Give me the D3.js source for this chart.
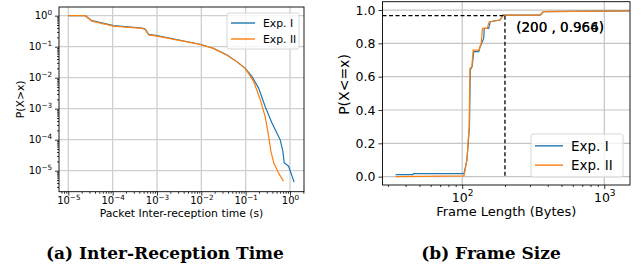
<!DOCTYPE html>
<html>
<head>
<meta charset="utf-8">
<script src="https://cdn.jsdelivr.net/npm/d3@7"></script>
<style>
  body { margin: 0; background: #fff; }
  svg { display: block; }
  text { font-family: "DejaVu Sans", sans-serif; fill: #000; }
  .cap { font-family: "DejaVu Serif", serif; font-weight: bold; }
</style>
</head>
<body>
<div id="chart"></div>
<script>
// (a) inter-reception time CCDF
const timeI = [1.0e-5, 2.4e-5, 3.4e-5, 1.05e-4, 4.6e-4, 5.4e-4, 6.5e-4, 1.0e-3, 9.3e-3, 1.86e-2, 3.8e-2, 6.3e-2, 9.8e-2, 0.138, 0.195, 0.275, 0.39, 0.60, 0.69, 0.74, 0.93, 1.24];
const ccdfI = [1.0, 1.0, 0.69, 0.48, 0.40, 0.37, 0.25, 0.23, 0.12, 0.089, 0.054, 0.033, 0.020, 0.011, 0.0047, 0.00118, 3.5e-4, 1.0e-4, 4.3e-5, 1.8e-5, 1.4e-5, 4.3e-6];
const timeII = [1.0e-5, 2.4e-5, 3.4e-5, 1.05e-4, 4.6e-4, 5.4e-4, 6.5e-4, 1.0e-3, 9.3e-3, 1.86e-2, 3.8e-2, 6.3e-2, 9.8e-2, 0.151, 0.214, 0.275, 0.33, 0.37, 0.43, 0.55, 0.71];
const ccdfII = [1.0, 1.0, 0.67, 0.46, 0.39, 0.36, 0.24, 0.22, 0.118, 0.088, 0.053, 0.033, 0.020, 0.0076, 0.00195, 5.6e-4, 1.3e-4, 4.3e-5, 1.8e-5, 8.5e-6, 4.6e-6];

// (b) frame size CDF
const sizeI = [34, 45, 45.4, 103, 108, 112.5, 114, 117.5, 120.6, 130.8, 134, 141.7, 143, 153.7, 157.8, 185, 193.6, 354, 373, 1500];
const cdfI = [0.012, 0.012, 0.018, 0.018, 0.10, 0.30, 0.64, 0.66, 0.75, 0.75, 0.78, 0.83, 0.89, 0.89, 0.93, 0.94, 0.97, 0.97, 0.99, 0.995];
const sizeII = [34, 103, 108, 112, 113.5, 117, 119.5, 131, 136, 139, 150, 155, 185, 193.6, 354, 373, 1500];
const cdfII = [0.0, 0.005, 0.10, 0.30, 0.65, 0.66, 0.76, 0.76, 0.80, 0.89, 0.89, 0.93, 0.94, 0.97, 0.97, 0.99, 0.995];

const seriesNames = ["Exp. I", "Exp. II"];
const colors = ["#1f77b4", "#ff7f0e"];
const pointX = 200, pointY = 0.966, pointY2 = 0.964;
const yTicksB = [0, 0.2, 0.4, 0.6, 0.8, 1.0];
const captions = ["(a) Inter-Reception Time", "(b) Frame Size"];

const svg = d3.select("#chart").append("svg")
  .attr("width", 641).attr("height", 273);

const supMinus = s => s.replace("-", "\u2212");

// log tick label "10^k"
function powLabel(sel, fs) {
  sel.each(function (d) {
    const t = d3.select(this).text("");
    const k = Math.round(Math.log10(d));
    t.append("tspan").text("10");
    t.append("tspan").attr("dy", -fs * 0.42).attr("font-size", fs * 0.72).text(supMinus(String(k)));
  });
}

function minorTicks(domain) {
  const out = [];
  const lo = Math.floor(Math.log10(domain[0])), hi = Math.ceil(Math.log10(domain[1]));
  for (let e = lo; e <= hi; e++)
    for (let m = 2; m <= 9; m++) {
      const v = m * Math.pow(10, e);
      if (v >= domain[0] && v <= domain[1]) out.push(v);
    }
  return out;
}

function legend(g, x0, y0, w, h, fs, rowH, lineLen) {
  const lg = g.append("g").attr("transform", `translate(${x0},${y0})`);
  lg.append("rect").attr("width", w).attr("height", h).attr("rx", 2)
    .attr("fill", "#fff").attr("fill-opacity", 0.8).attr("stroke", "#d6d6d6").attr("stroke-width", 1);
  seriesNames.forEach((n, i) => {
    const cy = h / 2 + (i - 0.5) * rowH;
    lg.append("line").attr("x1", 4).attr("x2", 4 + lineLen).attr("y1", cy).attr("y2", cy)
      .attr("stroke", colors[i]).attr("stroke-width", 1.4);
    lg.append("text").attr("x", lineLen + 12).attr("y", cy).attr("dy", "0.36em")
      .attr("font-size", fs).text(n);
  });
}

// ---------- chart (a) ----------
{
  const L = 59, R = 304, T = 7, B = 191.7;
  const xd = [Math.pow(10, -5.21), Math.pow(10, 0.316)];
  const yd = [Math.pow(10, -5.677), Math.pow(10, 0.28)];
  const x = d3.scaleLog().domain(xd).range([L, R]);
  const y = d3.scaleLog().domain(yd).range([B, T]);
  const g = svg.append("g");
  const majX = d3.range(-5, 1).map(k => Math.pow(10, k));
  const majY = d3.range(-5, 1).map(k => Math.pow(10, k));

  // grid
  g.append("g").selectAll("line").data(majX).join("line")
    .attr("x1", d => x(d)).attr("x2", d => x(d)).attr("y1", T).attr("y2", B)
    .attr("stroke", "#cfcfcf").attr("stroke-width", 1.3);
  g.append("g").selectAll("line").data(majY).join("line")
    .attr("y1", d => y(d)).attr("y2", d => y(d)).attr("x1", L).attr("x2", R)
    .attr("stroke", "#cfcfcf").attr("stroke-width", 1.3);

  const line = d3.line().x(d => x(d[0])).y(d => y(d[1]));
  [[timeI, ccdfI], [timeII, ccdfII]].forEach(([xs, ys], i) => {
    g.append("path").datum(d3.zip(xs, ys)).attr("d", line)
      .attr("fill", "none").attr("stroke", colors[i]).attr("stroke-width", 1.2);
  });

  // axes
  const ax = g.append("g").attr("transform", `translate(0,${B})`)
    .call(d3.axisBottom(x).tickValues(majX).tickSize(4).tickPadding(2));
  ax.selectAll(".tick text").call(powLabel, 10).attr("font-size", 10).attr("dy", "0.63em");
  g.append("g").attr("transform", `translate(0,${B})`)
    .call(d3.axisBottom(x).tickValues(minorTicks(xd)).tickSize(2).tickFormat(""));
  const ay = g.append("g").attr("transform", `translate(${L},0)`)
    .call(d3.axisLeft(y).tickValues(majY).tickSize(4).tickPadding(3));
  ay.selectAll(".tick text").call(powLabel, 10).attr("font-size", 10).attr("dy", "0.32em");
  g.append("g").attr("transform", `translate(${L},0)`)
    .call(d3.axisLeft(y).tickValues(minorTicks(yd)).tickSize(2).tickFormat(""));
  g.selectAll(".domain").remove();
  g.selectAll(".tick line").attr("stroke", "#000").attr("stroke-width", 0.8);

  g.append("rect").attr("x", L).attr("y", T).attr("width", R - L).attr("height", B - T)
    .attr("fill", "none").attr("stroke", "#000").attr("stroke-width", 0.9);

  g.append("text").attr("x", (L + R) / 2).attr("y", 217).attr("text-anchor", "middle")
    .attr("font-size", 10.8).text("Packet Inter-reception time (s)");
  g.append("text").attr("transform", `translate(24,${(T + B) / 2}) rotate(-90)`)
    .attr("text-anchor", "middle").attr("font-size", 10.8).text("P(X>x)");

  legend(g, 227, 13, 72, 36, 10.8, 16, 24);
}

// ---------- chart (b) ----------
{
  const L = 382.5, R = 630, T = 1.7, B = 185;
  const xd = [27.5, 1517];
  const x = d3.scaleLog().domain(xd).range([L, R]);
  const y = d3.scaleLinear().domain([-0.05, 1.05]).range([B, T]);
  const g = svg.append("g");
  const majX = [100, 1000];

  g.append("g").selectAll("line").data(majX).join("line")
    .attr("x1", d => x(d)).attr("x2", d => x(d)).attr("y1", T).attr("y2", B)
    .attr("stroke", "#b8b8b8").attr("stroke-width", 1);
  g.append("g").selectAll("line").data(yTicksB).join("line")
    .attr("y1", d => y(d)).attr("y2", d => y(d)).attr("x1", L).attr("x2", R)
    .attr("stroke", "#c4c4c4").attr("stroke-width", 1.2);

  const line = d3.line().x(d => x(d[0])).y(d => y(d[1]));
  [[sizeI, cdfI], [sizeII, cdfII]].forEach(([xs, ys], i) => {
    g.append("path").datum(d3.zip(xs, ys)).attr("d", line)
      .attr("fill", "none").attr("stroke", colors[i]).attr("stroke-width", 1.2);
  });

  // reference point
  g.append("line").attr("x1", L).attr("x2", x(pointX)).attr("y1", y(pointY)).attr("y2", y(pointY))
    .attr("stroke", "#000").attr("stroke-width", 1.3).attr("stroke-dasharray", "4,2.5");
  g.append("line").attr("x1", x(pointX)).attr("x2", x(pointX)).attr("y1", y(pointY)).attr("y2", y(0))
    .attr("stroke", "#000").attr("stroke-width", 1.3).attr("stroke-dasharray", "4,2.5");
  [pointY, pointY2].forEach(v => {
    g.append("text").attr("x", x(240)).attr("y", y(0.868)).attr("font-size", 13.5)
      .text(`(${pointX} , ${v})`);
  });

  const ax = g.append("g").attr("transform", `translate(0,${B})`)
    .call(d3.axisBottom(x).tickValues(majX).tickSize(4).tickPadding(2));
  ax.selectAll(".tick text").call(powLabel, 12.5).attr("font-size", 12.5).attr("dy", "0.85em");
  g.append("g").attr("transform", `translate(0,${B})`)
    .call(d3.axisBottom(x).tickValues(minorTicks(xd)).tickSize(2).tickFormat(""));
  const ay = g.append("g").attr("transform", `translate(${L},0)`)
    .call(d3.axisLeft(y).tickValues(yTicksB).tickSize(4).tickPadding(3).tickFormat(d3.format(".1f")));
  ay.selectAll(".tick text").attr("font-size", 12.5);
  g.selectAll(".domain").remove();
  g.selectAll(".tick line").attr("stroke", "#000").attr("stroke-width", 0.8);

  g.append("rect").attr("x", L).attr("y", T).attr("width", R - L).attr("height", B - T)
    .attr("fill", "none").attr("stroke", "#000").attr("stroke-width", 0.9);

  g.append("text").attr("x", (L + R) / 2).attr("y", 216).attr("text-anchor", "middle")
    .attr("font-size", 13).text("Frame Length (Bytes)");
  g.append("text").attr("transform", `translate(349,84.5) rotate(-90)`)
    .attr("text-anchor", "middle").attr("font-size", 14).text("P(X<=x)");

  legend(g, 531, 134, 92, 43, 13.5, 19.3, 28);
}

// captions
svg.selectAll(".cap").data(captions).join("text").attr("class", "cap")
  .attr("x", (d, i) => i === 0 ? 165 : 491).attr("y", 259)
  .attr("text-anchor", "middle").attr("font-size", 17).text(d => d);
</script>
</body>
</html>
